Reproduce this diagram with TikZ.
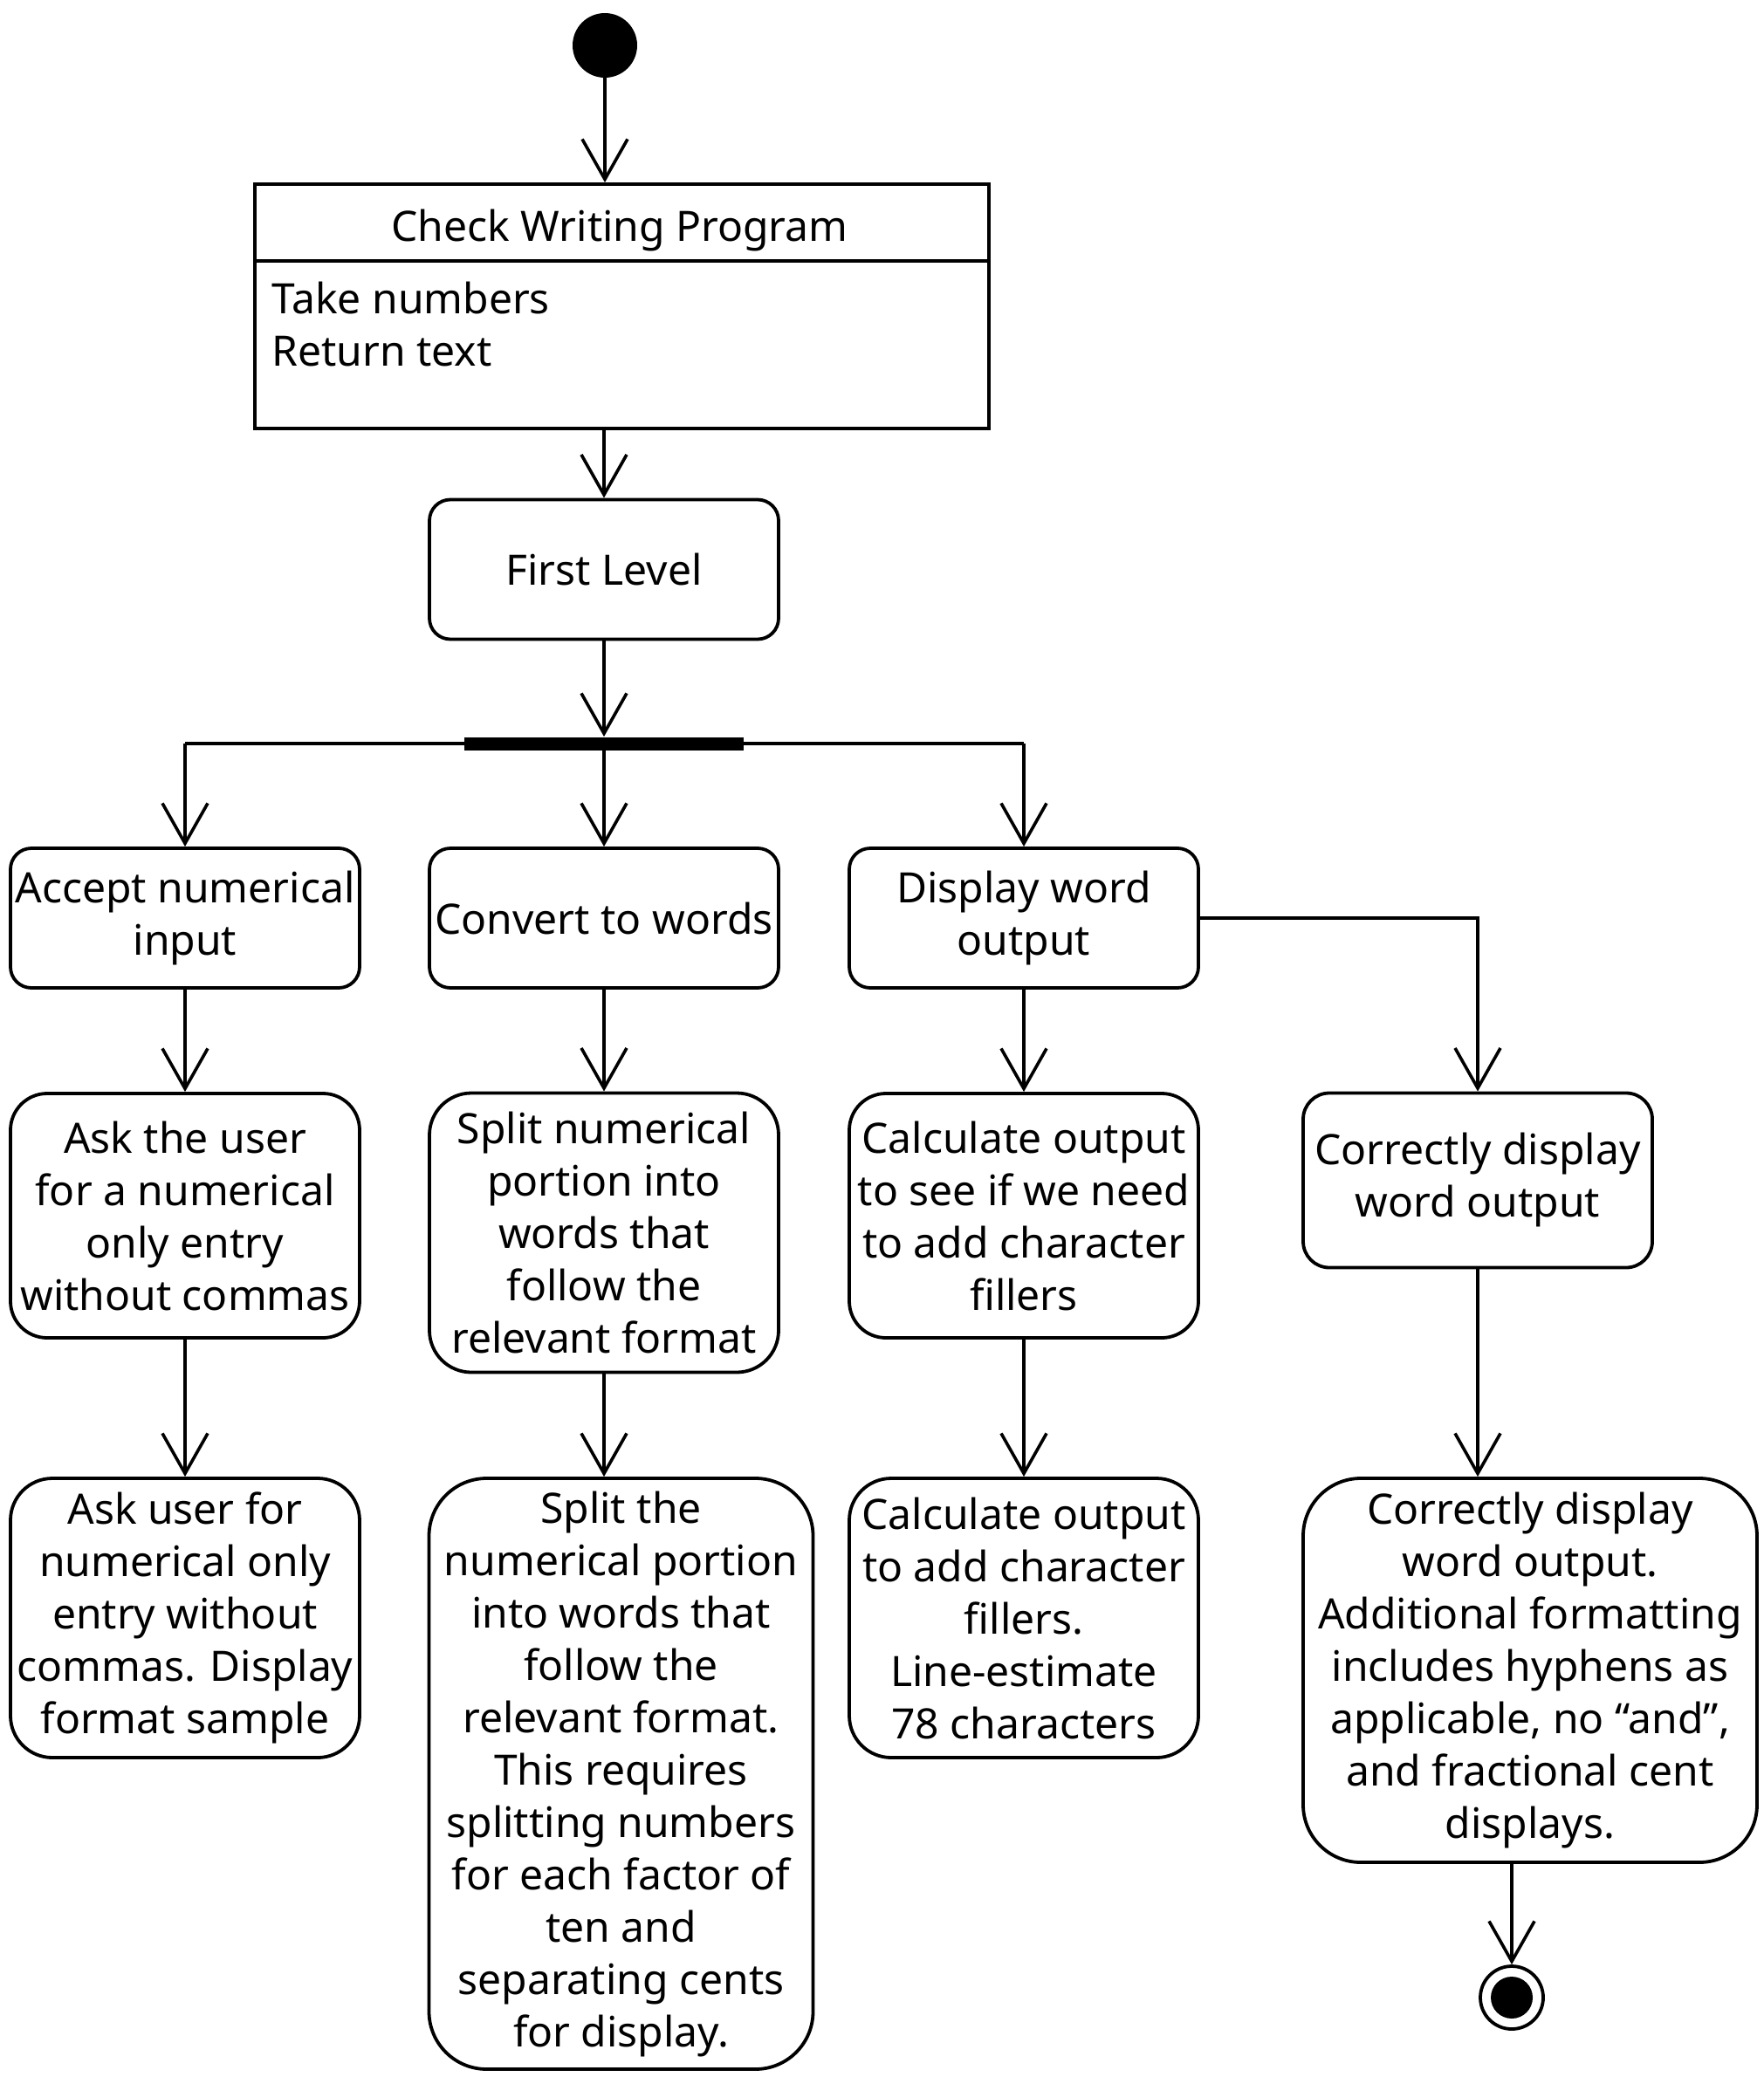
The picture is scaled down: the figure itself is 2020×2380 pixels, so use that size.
\documentclass[tikz,border=0pt]{standalone}
\usepackage{fontspec}
\setmainfont{Noto Sans}
\usepackage{tikz}
\usetikzlibrary{positioning}
\usetikzlibrary{arrows,arrows.meta}
\usetikzlibrary{calc}

\tikzset{
    act/.style={draw, line width=1.9pt, rounded corners=#1, align=center, inner sep=0pt,
        minimum width=200pt, minimum height=80pt, font=\fontsize{24}{30}\selectfont},
    act/.default=12pt,
    txt/.style={inner sep=0pt, font=\fontsize{24}{30}\selectfont},
    flow/.style={-{Straight Barb[length=23pt,width=26pt]}, line width=1.8pt},
    wire/.style={line width=1.8pt},
}

\begin{document}
\begin{tikzpicture}[x=0.5pt, y=-0.5pt]

    \useasboundingbox (0,0) rectangle (2020,2380);

    % start
    \node[circle, fill=black, minimum size=37pt, inner sep=0pt] (start) at (693,52) {};

    % class box
    \node[draw, line width=1.9pt, minimum width=420.5pt, minimum height=140pt, inner sep=0pt] (prog) at (712.5,351) {};
    \coordinate (sep) at (292,299);
    \draw[line width=1.9pt] (prog.west |- sep) -- (prog.east |- sep);
    \node[txt] (progtitle) at (710,264) {Check Writing Program};
    \node[txt, anchor=west, align=left] (progbody) at (311,372) {Take numbers\\Return text};

    \node[act] (first) at (692,652.5) {First Level};
    \node[fill=black, minimum width=160pt, minimum height=7.5pt, inner sep=0pt] (fork) at (692,852) {};

    % first row
    \node[act] (accept) at (212,1052) {Accept numerical\\input};
    \node[act] (convert) at (692,1052) {Convert to words};
    \node[act] (display) at (1173,1052) {Display word\\output};

    % second row
    \node[act=21pt, minimum height=140pt] (askuser) at (212,1393) {Ask the user\\for a numerical\\only entry\\without commas};
    \node[act=24pt, minimum height=160pt] (split) at (692,1412.5) {Split numerical\\portion into\\words that\\follow the\\relevant format};
    \node[act=21pt, minimum height=140pt] (calc) at (1173,1393) {Calculate output\\to see if we need\\to add character\\fillers};
    \node[act=15pt, minimum height=100pt] (correct) at (1693,1352.5) {Correctly display\\word output};

    % third row
    \node[act=24pt, minimum height=160pt] (askfmt) at (212,1854) {Ask user for\\numerical only\\entry without\\commas. Display\\format sample};
    \node[act=33pt, minimum width=220pt, minimum height=338.5pt] (splitall) at (711.5,2032.5) {Split the\\numerical portion\\into words that\\follow the\\relevant format.\\This requires\\splitting numbers\\for each factor of\\ten and\\separating cents\\for display.};
    \node[act=24pt, minimum height=160pt] (calcfill) at (1173,1854) {Calculate output\\to add character\\fillers.\\Line-estimate\\78 characters};
    \node[act=33pt, minimum width=260pt, minimum height=220pt] (fmt) at (1753,1914) {Correctly display\\word output.\\Additional formatting\\includes hyphens as\\applicable, no “and”,\\and fractional cent\\displays.};

    % end
    \node[circle, draw, line width=1.9pt, minimum size=36pt, inner sep=0pt] (stop) at (1732,2289) {};
    \node[circle, fill=black, minimum size=24pt, inner sep=0pt] (stopdot) at (stop) {};

    \draw[flow] (start) -- (prog.north -| start);
    \draw[flow] (prog.south -| first) -- (first);
    \draw[flow] (first) -- (fork.north);
    \draw[wire] (fork -| accept) -- (fork -| display);
    \draw[flow] (fork -| accept) -- (accept);
    \draw[flow] (fork) -- (convert);
    \draw[flow] (fork -| display) -- (display);
    \draw[flow] (display.east) -| (correct.north);

    \draw[flow] (accept) -- (askuser);
    \draw[flow] (convert) -- (split);
    \draw[flow] (display) -- (calc);

    \draw[flow] (askuser) -- (askfmt);
    \draw[flow] (split.south) -- (split.south |- splitall.north);
    \draw[flow] (calc) -- (calcfill);
    \draw[flow] (correct.south) -- (correct.south |- fmt.north);
    \draw[flow] (stop.north |- fmt.south) -- (stop);
\end{tikzpicture}
\end{document}
